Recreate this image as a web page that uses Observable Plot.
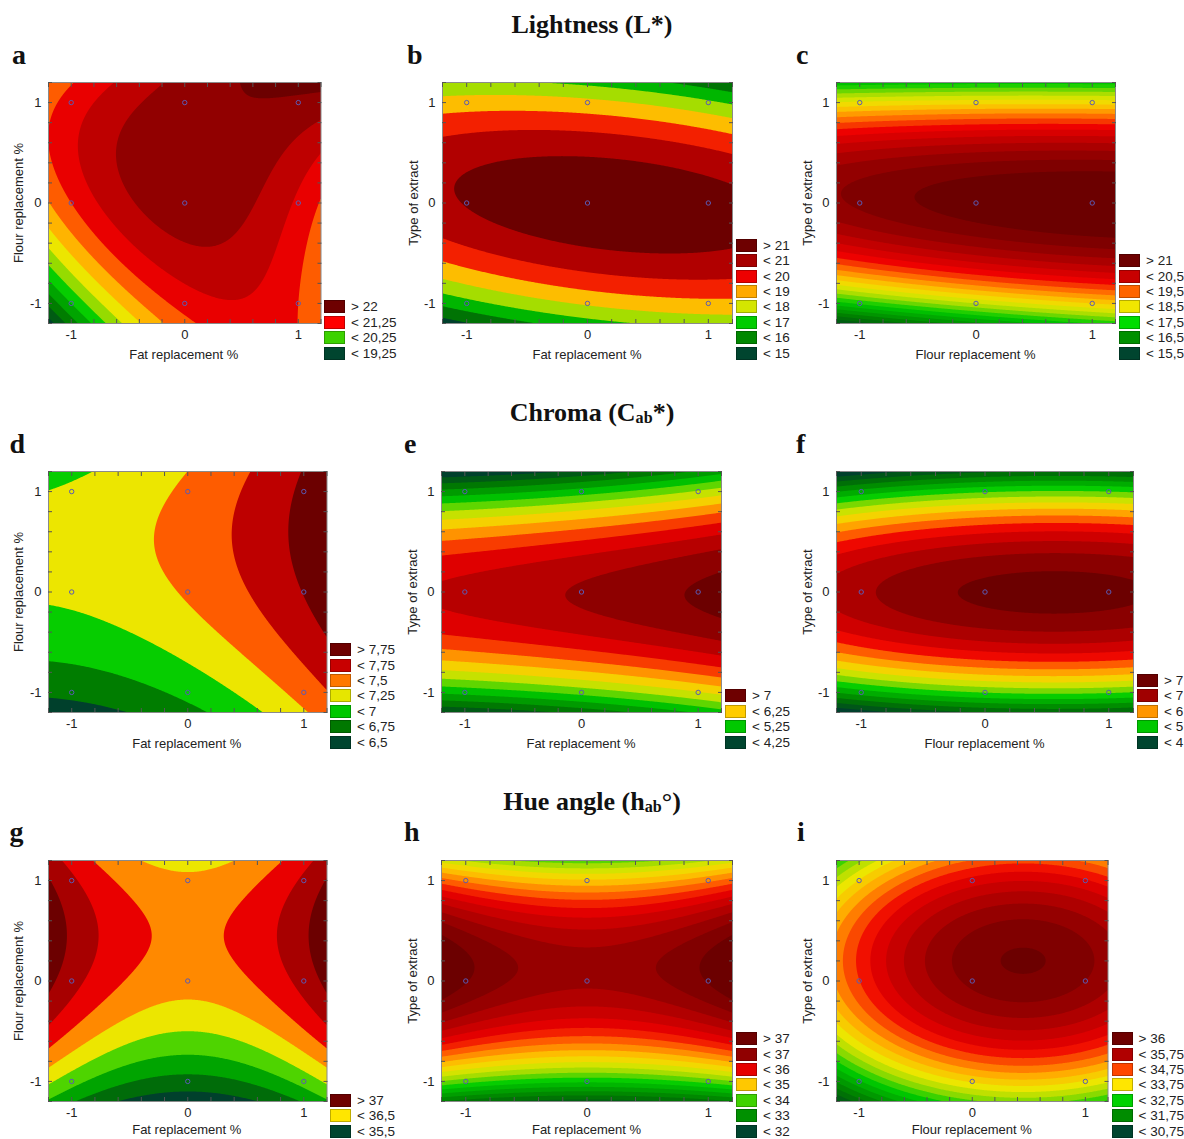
<!DOCTYPE html>
<html><head><meta charset="utf-8">
<script src="https://cdn.jsdelivr.net/npm/d3@7"></script>
<script src="https://cdn.jsdelivr.net/npm/@observablehq/plot@0.6"></script>
<style>
body{margin:0;background:#fff;}
#fig{position:relative;width:1184px;height:1139px;overflow:hidden;font-family:"Liberation Sans",Arial,sans-serif;color:#222;background:#fff;}
.title{position:absolute;left:0;width:1184px;text-align:center;font-family:"Liberation Serif","Times New Roman",serif;font-weight:bold;font-size:26px;line-height:26px;color:#111;}
.title sub{font-size:62%;vertical-align:baseline;position:relative;top:0.12em;}
.letter{position:absolute;font-family:"Liberation Serif","Times New Roman",serif;font-weight:bold;font-size:28px;line-height:28px;color:#111;}
.xlab{position:absolute;font-size:13px;line-height:14px;white-space:nowrap;transform:translateX(-50%);}
.ylab{position:absolute;font-size:13px;line-height:15px;white-space:nowrap;transform:translate(-50%,-50%) rotate(-90deg);}
.lrow{position:absolute;height:15px;display:flex;align-items:center;white-space:nowrap;font-size:13.5px;}
.sw{width:21px;height:13px;box-sizing:border-box;border:1px solid rgba(0,0,0,0.25);margin-right:6px;}
.panel{position:absolute;}
</style></head><body><div id="fig"></div>
<script>
// ---------- data (coded design levels, fitted response at the 9 design points) ----------
const codedLevels = [-1, 0, 1];            // x and y design levels
// rows: y = 1, 0, -1 ; columns: x = -1, 0, 1
const lightnessFatFlour    = [[21.35, 21.90, 21.95], [21.25, 21.90, 21.45], [20.00, 21.35, 21.25]];
const lightnessFatExtract  = [[18.46, 18.28, 17.18], [21.05, 21.71, 21.45], [16.64, 18.14, 18.72]];
const lightnessFlourExtract= [[18.30, 18.40, 18.40], [20.80, 21.15, 21.30], [17.30, 18.00, 18.50]];
const chromaFatFlour       = [[7.03, 7.30, 7.80], [7.05, 7.28, 7.76], [6.56, 6.82, 7.35]];
const chromaFatExtract     = [[4.61, 4.87, 5.28], [6.57, 6.78, 7.03], [4.83, 5.09, 5.48]];
const chromaFlourExtract   = [[4.35, 4.72, 4.75], [6.69, 7.05, 7.07], [4.38, 4.76, 4.78]];
const hueFatFlour          = [[36.80, 36.30, 36.80], [36.85, 36.35, 36.85], [35.85, 35.40, 35.85]];
const hueFatExtract        = [[35.19, 34.79, 35.19], [37.02, 36.56, 37.02], [33.85, 33.55, 33.85]];
const hueFlourExtract      = [[33.52, 34.85, 34.78], [34.49, 35.82, 35.75], [32.21, 33.54, 33.47]];

// contour levels [first, last, step]
const levelsA = [19.25, 22, 0.25];
const levelsB = [15, 21, 1];
const levelsC = [15.5, 21, 0.25];
const levelsD = [6.5, 7.75, 0.25];
const levelsE = [4, 7, 0.25];
const levelsF = [3.5, 7, 0.25];
const levelsG = [35.25, 37, 0.25];
const levelsH = [32, 37, 0.25];
const levelsI = [30.75, 36, 0.25];

// legend labels as printed
const legendA = ["> 22", "< 21,25", "< 20,25", "< 19,25"];
const legendB = ["> 21", "< 21", "< 20", "< 19", "< 18", "< 17", "< 16", "< 15"];
const legendC = ["> 21", "< 20,5", "< 19,5", "< 18,5", "< 17,5", "< 16,5", "< 15,5"];
const legendD = ["> 7,75", "< 7,75", "< 7,5", "< 7,25", "< 7", "< 6,75", "< 6,5"];
const legendE = ["> 7", "< 6,25", "< 5,25", "< 4,25"];
const legendF = ["> 7", "< 7", "< 6", "< 5", "< 4"];
const legendG = ["> 37", "< 36,5", "< 35,5"];
const legendH = ["> 37", "< 37", "< 36", "< 35", "< 34", "< 33", "< 32"];
const legendI = ["> 36", "< 35,75", "< 34,75", "< 33,75", "< 32,75", "< 31,75", "< 30,75"];

// ---------- styles ----------
const swatchA = ["#6e0000", "#ff0000", "#3cd200", "#00452f"];
const swatchB = ["#6e0000", "#a80000", "#ee0000", "#ffaa00", "#d4e600", "#00cc00", "#008800", "#00452f"];
const swatchC = ["#6e0000", "#c80000", "#ff6400", "#f0e600", "#00dc00", "#009000", "#00452f"];
const swatchD = ["#6e0000", "#c80000", "#ff7800", "#e6e600", "#00c800", "#007800", "#00452f"];
const swatchE = ["#6e0000", "#ffcc00", "#00c800", "#00452f"];
const swatchF = ["#6e0000", "#a00000", "#ff9600", "#00c800", "#00452f"];
const swatchG = ["#6e0000", "#ffe600", "#00452f"];
const swatchH = ["#6e0000", "#900000", "#e60000", "#ffc800", "#40d200", "#009000", "#00452f"];
const swatchI = ["#6e0000", "#b00000", "#ff4600", "#ffe600", "#00d200", "#008c00", "#00452f"];

const rampStops  = [0, .08, .16, .25, .33, .42, .5, .58, .66, .74, .83, .91, 1];
const rampColors = ["#00402c","#005a14","#007a00","#00a400","#00cc00","#9cdc00","#ece600","#ffb800","#ff6400","#ee0000","#c00000","#940000","#6c0000"];
const ramp = d3.scaleLinear().domain(rampStops).range(rampColors).interpolate(d3.interpolateRgb).clamp(true);

const FAT = "Fat replacement %", FLOUR = "Flour replacement %", EXTRACT = "Type of extract";
const panels = [
  {letter: "a", grid: lightnessFatFlour,     levels: levelsA, legend: legendA, swatch: swatchA, frame: [47.5, 82, 272.5, 241], xl: FAT,   yl: FLOUR},
  {letter: "b", grid: lightnessFatExtract,   levels: levelsB, legend: legendB, swatch: swatchB, frame: [442, 82, 290, 241],    xl: FAT,   yl: EXTRACT},
  {letter: "c", grid: lightnessFlourExtract, levels: levelsC, legend: legendC, swatch: swatchC, frame: [836, 82, 279, 241],    xl: FLOUR, yl: EXTRACT},
  {letter: "d", grid: chromaFatFlour,        levels: levelsD, legend: legendD, swatch: swatchD, frame: [47.5, 471, 278.5, 241], xl: FAT,  yl: FLOUR},
  {letter: "e", grid: chromaFatExtract,      levels: levelsE, legend: legendE, swatch: swatchE, frame: [441, 471, 280, 241],   xl: FAT,   yl: EXTRACT},
  {letter: "f", grid: chromaFlourExtract,    levels: levelsF, legend: legendF, swatch: swatchF, frame: [836, 471, 297, 241],   xl: FLOUR, yl: EXTRACT},
  {letter: "g", grid: hueFatFlour,           levels: levelsG, legend: legendG, swatch: swatchG, frame: [47.5, 860, 278.5, 241], xl: FAT,  yl: FLOUR},
  {letter: "h", grid: hueFatExtract,         levels: levelsH, legend: legendH, swatch: swatchH, frame: [441, 860, 291, 241],   xl: FAT,   yl: EXTRACT},
  {letter: "i", grid: hueFlourExtract,       levels: levelsI, legend: legendI, swatch: swatchI, frame: [836, 860, 271.5, 241], xl: FLOUR, yl: EXTRACT}
];
const letterPos = {a:[12,41], b:[407,41], c:[796,41], d:[9.5,430], e:[404,430], f:[796,430], g:[9.5,818], h:[404,818], i:[797,818]};

// second-order response surface through the 9 design points (renders the fitted model)
function responseSurface(index, width, height, X, Y, V) {
  const key = (v) => Math.round(v * 1e4) / 1e4;
  const xs = [...new Set(Array.from(index, (i) => key(X[i])))].sort((a, b) => a - b);
  const ys = [...new Set(Array.from(index, (i) => key(Y[i])))].sort((a, b) => a - b);
  const M = xs.map(() => ys.map(() => 0));
  for (const i of index) M[xs.indexOf(key(X[i]))][ys.indexOf(key(Y[i]))] = V[i];
  const lag = (nodes, t) => nodes.map((n, k) => nodes.reduce((p, m, j) => (j === k ? p : p * (t - m) / (n - m)), 1));
  const LX = d3.range(width).map((px) => lag(xs, px + 0.5));
  const out = new Float64Array(width * height);
  for (let py = 0; py < height; ++py) {
    const ly = lag(ys, py + 0.5);
    for (let px = 0; px < width; ++px) {
      const lx = LX[px];
      let s = 0;
      for (let a = 0; a < xs.length; ++a) for (let b = 0; b < ys.length; ++b) s += lx[a] * ly[b] * M[a][b];
      out[py * width + px] = s;
    }
  }
  return out;
}

const fig = document.getElementById("fig");
function addDiv(cls, html, style) {
  const d = document.createElement("div");
  d.className = cls; d.innerHTML = html; Object.assign(d.style, style); fig.appendChild(d); return d;
}

addDiv("title", "Lightness (L*)", {top: "12px"});
addDiv("title", "Chroma (C<sub>ab</sub>*)", {top: "400px"});
addDiv("title", "Hue angle (h<sub>ab</sub>°)", {top: "789px"});

const minorTicks = [-1.2, -1, -0.8, -0.6, -0.4, -0.2, 0, 0.2, 0.4, 0.6, 0.8, 1, 1.2];
const tickText = (d) => (d < 0 ? "-" + Math.abs(d) : String(d));
const ML = 40, MR = 8, MT = 8, MB = 26;

for (const p of panels) {
  const [fx, fy, fw, fh] = p.frame;
  const points = [];
  p.grid.forEach((row, r) => row.forEach((v, c) => points.push({x: codedLevels[c], y: codedLevels[2 - r], v})));
  const [l0, l1, st] = p.levels;
  const levels = d3.range(l0, l1 + st / 2, st);
  const nb = levels.length + 1;
  const bandColors = d3.range(nb).map((i) => ramp(i / (nb - 1)));
  const svg = Plot.plot({
    width: fw + ML + MR, height: fh + MT + MB,
    marginLeft: ML, marginRight: MR, marginTop: MT, marginBottom: MB,
    style: {fontFamily: "'Liberation Sans', Arial, sans-serif", fontSize: "13px", color: "#222", background: "transparent"},
    x: {domain: [-1.2, 1.2]},
    y: {domain: [-1.2, 1.2]},
    color: {type: "threshold", domain: levels, range: bandColors},
    marks: [
      Plot.frame({fill: bandColors[0], stroke: "none"}),
      Plot.contour(points, {
        x: "x", y: "y", fill: "v",
        x1: -1.2, y1: -1.2, x2: 1.2, y2: 1.2,
        interpolate: responseSurface,
        thresholds: [l0 - 1000, ...levels],
        pixelSize: 1, stroke: "none"
      }),
      Plot.dot(points, {x: "x", y: "y", r: 2.2, fill: "none", stroke: "#5a5ab4", strokeWidth: 1}),
      Plot.frame({stroke: "#8a8a8a", strokeWidth: 1}),
      Plot.axisX(minorTicks, {anchor: "bottom", tickSize: -4, tickFormat: () => "", label: null, stroke: "#555"}),
      Plot.axisX(minorTicks, {anchor: "top", tickSize: -4, tickFormat: () => "", label: null, stroke: "#555"}),
      Plot.axisY(minorTicks, {anchor: "left", tickSize: -4, tickFormat: () => "", label: null, stroke: "#555"}),
      Plot.axisY(minorTicks, {anchor: "right", tickSize: -4, tickFormat: () => "", label: null, stroke: "#555"}),
      Plot.axisX(codedLevels, {anchor: "bottom", tickSize: 0, tickPadding: 6, tickFormat: tickText, label: null}),
      Plot.axisY(codedLevels, {anchor: "left", tickSize: 0, tickPadding: 7, tickFormat: tickText, label: null})
    ]
  });
  const wrap = document.createElement("div");
  wrap.className = "panel";
  wrap.style.left = (fx - ML) + "px";
  wrap.style.top = (fy - MT) + "px";
  wrap.appendChild(svg);
  fig.appendChild(wrap);

  const [lx, ly] = letterPos[p.letter];
  addDiv("letter", p.letter, {left: lx + "px", top: ly + "px"});
  addDiv("xlab", p.xl, {left: (fx + fw / 2) + "px", top: Math.min(fy + fh + 25, 1123) + "px"});
  addDiv("ylab", p.yl, {left: (fx - 29.5) + "px", top: (fy + fh / 2) + "px"});

  const n = p.legend.length;
  const lastCenter = fy + fh + 30;
  p.legend.forEach((label, i) => {
    const cy = lastCenter - (n - 1 - i) * 15.4;
    addDiv("lrow", `<div class="sw" style="background:${p.swatch[i]}"></div><span>${label}</span>`,
      {left: (fx + fw + 4) + "px", top: (cy - 7.5) + "px"});
  });
}
</script></body></html>
